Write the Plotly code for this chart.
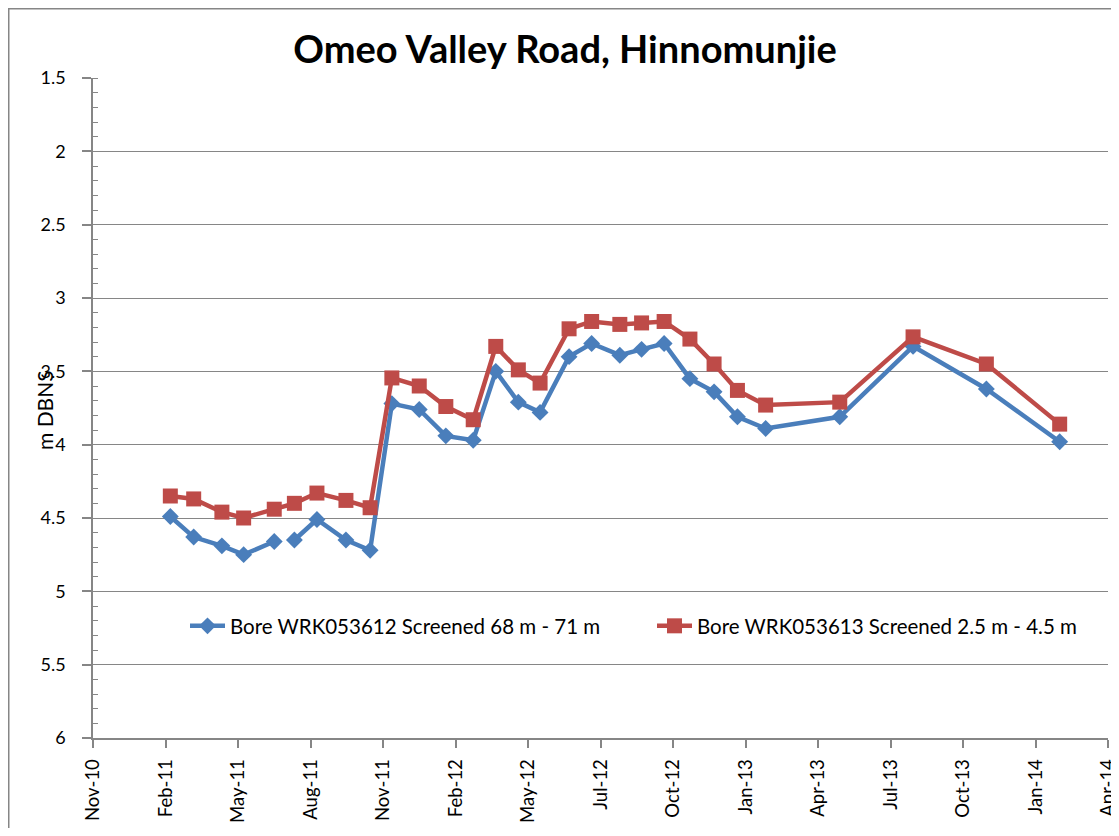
import plotly.graph_objects as go

# ---- data ----
dates = ["2011-02-12", "2011-03-13", "2011-04-17", "2011-05-14", "2011-06-21",
         "2011-07-05",
         "2011-07-16", "2011-08-13", "2011-09-18", "2011-10-18", "2011-11-14",
         "2011-12-18", "2012-01-20", "2012-02-23", "2012-03-22", "2012-04-19",
         "2012-05-16", "2012-06-21", "2012-07-19", "2012-08-23", "2012-09-19",
         "2012-10-17", "2012-11-18", "2012-12-18", "2013-01-16", "2013-02-20",
         "2013-05-23", "2013-08-22", "2013-11-21", "2014-02-20"]

bore_612 = [4.49, 4.63, 4.69, 4.75, 4.66,
            None,
            4.65, 4.51, 4.65, 4.72, 3.72,
            3.76, 3.94, 3.97, 3.50, 3.71,
            3.78, 3.40, 3.31, 3.39, 3.35,
            3.31, 3.55, 3.64, 3.81, 3.89,
            3.81, 3.33, 3.62, 3.98]

bore_613 = [4.35, 4.37, 4.46, 4.50, 4.44,
            None,
            4.40, 4.33, 4.38, 4.43, 3.545,
            3.60, 3.74, 3.83, 3.33, 3.49,
            3.58, 3.21, 3.16, 3.18, 3.17,
            3.16, 3.28, 3.45, 3.63, 3.73,
            3.71, 3.265, 3.45, 3.86]

name_612 = "Bore WRK053612 Screened 68 m - 71 m"
name_613 = "Bore WRK053613 Screened 2.5 m - 4.5 m"
title_text = "Omeo Valley Road, Hinnomunjie"
y_title = "m DBNS"

FONT = "Lato, 'Open Sans', sans-serif"
GRAY = "#868686"
BLUE = "#4A7EBB"
RED = "#BE4B48"

# the page has an 8px body margin on every side
OFF = 8
W, H = 1103, 820
ML, MR, MT, MB = 85, 3, 70, 90
PW = W - ML - MR
PH = H - MT - MB


def px_x(page_x):
    return (page_x - OFF - ML) / PW


def px_y(page_y):
    return 1 - (page_y - OFF - MT) / PH


fig = go.Figure()
fig.add_trace(go.Scatter(
    x=dates, y=bore_612, name=name_612, mode="lines+markers",
    connectgaps=False, legend="legend",
    line=dict(color=BLUE, width=4.5),
    marker=dict(symbol="diamond", size=13, color=BLUE,
                line=dict(color=BLUE, width=0)),
))
fig.add_trace(go.Scatter(
    x=dates, y=bore_613, name=name_613, mode="lines+markers",
    connectgaps=True, legend="legend2",
    line=dict(color=RED, width=4.5),
    marker=dict(symbol="square", size=15, color=RED,
                line=dict(color=RED, width=0)),
))

leg_common = dict(orientation="h", xanchor="left", yanchor="middle",
                  bgcolor="rgba(0,0,0,0)", font=dict(size=20.5),
                  itemwidth=35, borderwidth=0)

fig.update_layout(
    width=W, height=H,
    margin=dict(l=ML, r=MR, t=MT, b=MB, autoexpand=False),
    paper_bgcolor="white", plot_bgcolor="white",
    font=dict(family=FONT, size=18, color="#000000"),
    title=dict(text="<b>" + title_text + "</b>", x=(565 - OFF) / W, xref="container",
               xanchor="center", y=1 - (50 - OFF) / H, yref="container",
               yanchor="middle",
               font=dict(family=FONT, size=38, color="#000000")),
    showlegend=True,
    legend=dict(x=px_x(185), y=px_y(626), **leg_common),
    legend2=dict(x=px_x(652), y=px_y(626), **leg_common),
    xaxis=dict(
        type="date",
        range=["2010-11-08", "2014-04-21"],
        tick0="2010-11-08", dtick=90 * 86400000,
        tickformat="%b-%y", tickangle=-90,
        ticks="outside", ticklen=8, tickcolor=GRAY, tickwidth=1.5,
        showline=True, linecolor=GRAY, linewidth=1.5,
        showgrid=False, zeroline=False,
        tickfont=dict(size=18.5, color="#000000"),
        ticklabelstandoff=4,
        ticklabeloverflow="allow",
        automargin=False,
    ),
    yaxis=dict(
        range=[6, 1.5], dtick=0.5, tick0=1.5,
        ticks="outside", ticklen=9, tickcolor=GRAY, tickwidth=1.5,
        showline=True, linecolor=GRAY, linewidth=1.5,
        showgrid=True, gridcolor=GRAY, gridwidth=1.3,
        zeroline=False,
        tickfont=dict(size=18, color="#000000"),
        ticklabelstandoff=13,
        automargin=False,
        minor=dict(dtick=0.1, ticks="inside", ticklen=5,
                   tickcolor=GRAY, tickwidth=1.2, showgrid=False),
    ),
    annotations=[dict(text=y_title, textangle=-90, xref="paper", yref="paper",
                      x=px_x(44), y=px_y(410),
                      xanchor="center", yanchor="middle", showarrow=False,
                      font=dict(size=21, color="#000000"))],
    shapes=[dict(type="rect", xref="paper", yref="paper",
                 x0=-(ML - 0.75) / PW, x1=1.2, y0=-0.5, y1=1 + (MT - 0.75) / PH,
                 line=dict(color=GRAY, width=1.5), fillcolor="rgba(0,0,0,0)",
                 layer="below")],
)

fig.write_html("out.html")
